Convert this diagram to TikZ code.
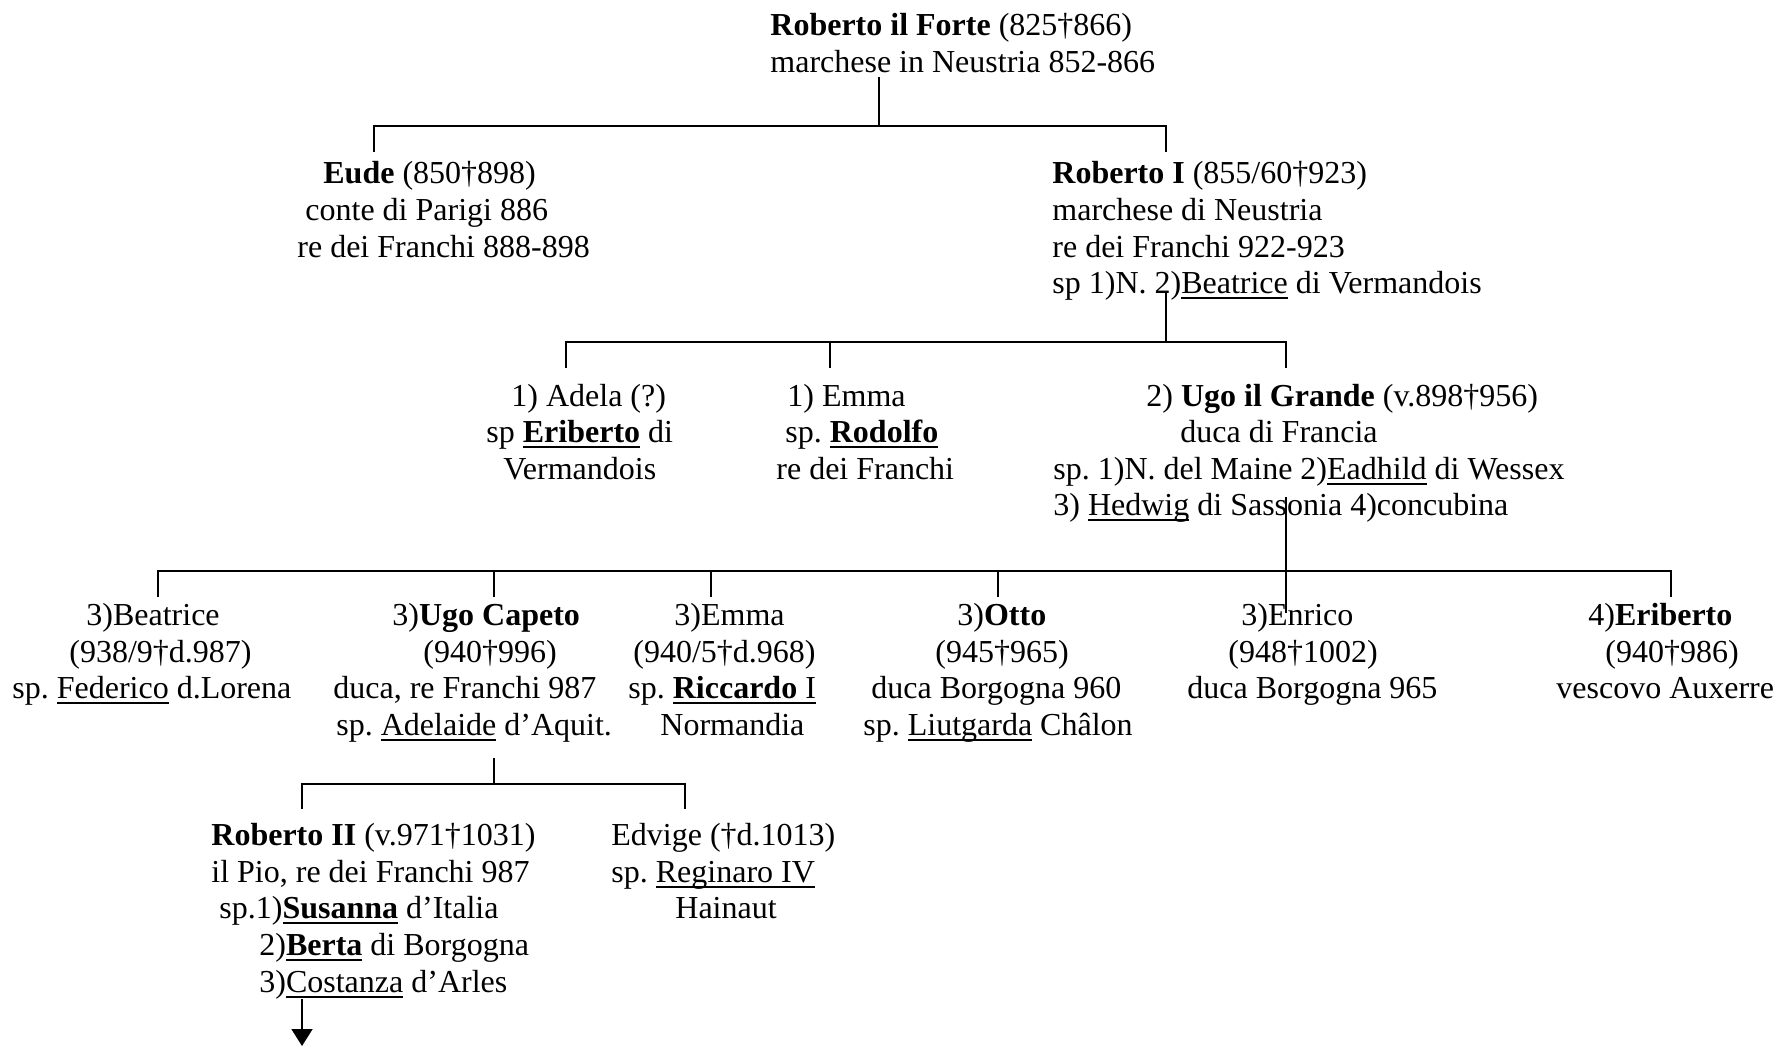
\documentclass[tikz,border=0pt]{standalone}
\usepackage{fontspec}
\setmainfont{Liberation Serif}
\usetikzlibrary{arrows.meta}
\frenchspacing
\newcommand\ul[1]{\setbox0\hbox{#1}\rlap{\rule[-2.8pt]{\wd0}{0.8pt}}\box0\relax}
\newcommand\ulthick[1]{\setbox0\hbox{#1}\rlap{\rule[-3.2pt]{\wd0}{1.4pt}}\box0\relax}
\begin{document}
\begin{tikzpicture}[x=0.5pt,y=-0.5pt,
  txt/.style={anchor=base west,inner sep=0pt,font=\fontsize{16}{18.5}\selectfont\frenchspacing},
  ln/.style={line width=0.85pt,line cap=rect}]
\useasboundingbox (0,0) rectangle (1778,1046);
% ---- level 1
\node[txt] (t1) at (770,35) {\textbf{Roberto il Forte} (825†866)};
\node[txt] (t2) at (770,72) {marchese in Neustria 852-866};
% ---- level 2
\node[txt] (e1) at (323,183) {\textbf{Eude} (850†898)};
\node[txt] (e2) at (305,220) {conte di Parigi 886};
\node[txt] (e3) at (297,257) {re dei Franchi 888-898};
\node[txt] (r1) at (1052,183) {\textbf{Roberto I} (855/60†923)};
\node[txt] (r2) at (1052,220) {marchese di Neustria};
\node[txt] (r3) at (1052,257) {re dei Franchi 922-923};
\node[txt] (r4) at (1052,293) {sp 1)N. 2)\ul{Beatrice} di Vermandois};
% ---- level 3
\node[txt] (a1) at (511,406) {1) Adela (?)};
\node[txt] (a2) at (486,442) {sp \ulthick{\textbf{Eriberto}} di};
\node[txt] (a3) at (503,479) {Vermandois};
\node[txt] (m1) at (787,406) {1) Emma};
\node[txt] (m2) at (785,442) {sp. \ulthick{\textbf{Rodolfo}}};
\node[txt] (m3) at (776,479) {re dei Franchi};
\node[txt] (u1) at (1146,406) {2) \textbf{Ugo il Grande} (v.898†956)};
\node[txt] (u2) at (1180,442) {duca di Francia};
\node[txt] (u3) at (1053,479) {sp. 1)N. del Maine 2)\ul{Eadhild} di Wessex};
\node[txt] (u4) at (1053,515) {3) \ul{Hedwig} di Sassonia 4)concubina};
% ---- level 4
\node[txt] (b1) at (86,625) {3)Beatrice};
\node[txt] (b2) at (69,662) {(938/9†d.987)};
\node[txt] (b3) at (12,698) {sp. \ul{Federico} d.Lorena};
\node[txt] (c1) at (392,625) {3)\textbf{Ugo Capeto}};
\node[txt] (c2) at (423,662) {(940†996)};
\node[txt] (c3) at (333,698) {duca, re Franchi 987};
\node[txt] (c4) at (336,735) {sp. \ul{Adelaide} d’Aquit.};
\node[txt] (em1) at (674,625) {3)Emma};
\node[txt] (em2) at (633,662) {(940/5†d.968)};
\node[txt] (em3) at (628,698) {sp. \ulthick{\textbf{Riccardo} I}};
\node[txt] (em4) at (660,735) {Normandia};
\node[txt] (o1) at (957,625) {3)\textbf{Otto}};
\node[txt] (o2) at (935,662) {(945†965)};
\node[txt] (o3) at (871,698) {duca Borgogna 960};
\node[txt] (o4) at (863,735) {sp. \ul{Liutgarda} Châlon};
\node[txt] (h1) at (1241,625) {3)Enrico};
\node[txt] (h2) at (1228,662) {(948†1002)};
\node[txt] (h3) at (1187,698) {duca Borgogna 965};
\node[txt] (x1) at (1588,625) {4)\textbf{Eriberto}};
\node[txt] (x2) at (1605,662) {(940†986)};
\node[txt] (x3) at (1556,698) {vescovo Auxerre};
% ---- level 5
\node[txt] (p1) at (211,845) {\textbf{Roberto II} (v.971†1031)};
\node[txt] (p2) at (211,882) {il Pio, re dei Franchi 987};
\node[txt] (p3) at (219,918) {sp.1)\ulthick{\textbf{Susanna}} d’Italia};
\node[txt] (p4) at (259,955) {2)\ulthick{\textbf{Berta}} di Borgogna};
\node[txt] (p5) at (259,992) {3)\ul{Costanza} d’Arles};
\node[txt] (v1) at (611,845) {Edvige (†d.1013)};
\node[txt] (v2) at (611,882) {sp. \ul{Reginaro IV}};
\node[txt] (v3) at (675,918) {Hainaut};
% ---- junction coordinates
\coordinate (s0) at (879,78);   \coordinate (j0) at (879,126);
\coordinate (j0l) at (374,126); \coordinate (j0r) at (1166,126);
\coordinate (d0l) at (374,151); \coordinate (d0r) at (1166,151);
\coordinate (s1) at (1166,293); \coordinate (j1) at (1166,342);
\coordinate (j1a) at (566,342); \coordinate (j1b) at (830,342); \coordinate (j1c) at (1286,342);
\coordinate (d1a) at (566,367); \coordinate (d1b) at (830,367); \coordinate (d1c) at (1286,367);
\coordinate (s2) at (1286,498); \coordinate (e2end) at (1286,612);
\coordinate (j2a) at (158,571); \coordinate (j2b) at (494,571); \coordinate (j2c) at (711,571);
\coordinate (j2d) at (998,571); \coordinate (j2e) at (1671,571);
\coordinate (d2a) at (158,596); \coordinate (d2b) at (494,596); \coordinate (d2c) at (711,596);
\coordinate (d2d) at (998,596); \coordinate (d2e) at (1671,596);
\coordinate (s3) at (494,759); \coordinate (j3) at (494,784);
\coordinate (j3a) at (302,784); \coordinate (j3b) at (685,784);
\coordinate (d3a) at (302,808); \coordinate (d3b) at (685,808);
\coordinate (s4) at (302,999); \coordinate (tip) at (302,1046);
% ---- connectors
\draw[ln] (s0) -- (j0);
\draw[ln] (d0l) -- (j0l) -- (j0r) -- (d0r);
\draw[ln] (s1) -- (j1);
\draw[ln] (d1a) -- (j1a) -- (j1c) -- (d1c);
\draw[ln] (j1b) -- (d1b);
\draw[ln] (s2) -- (e2end);
\draw[ln] (d2a) -- (j2a) -- (j2e) -- (d2e);
\draw[ln] (j2b) -- (d2b);
\draw[ln] (j2c) -- (d2c);
\draw[ln] (j2d) -- (d2d);
\draw[ln] (s3) -- (j3);
\draw[ln] (d3a) -- (j3a) -- (j3b) -- (d3b);
\draw[line width=0.85pt,-{Triangle[length=8.5pt,width=10.5pt]}] (s4) -- (tip);
\end{tikzpicture}
\end{document}
